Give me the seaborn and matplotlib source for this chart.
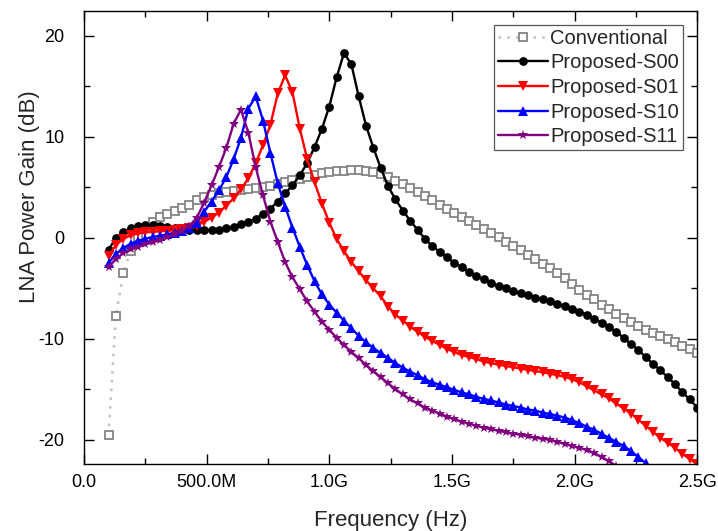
import numpy as np
import pandas as pd
import matplotlib
matplotlib.use("Agg")
import matplotlib.pyplot as plt
import seaborn as sns

# frequency sweep (GHz), 30 MHz step
freq = [0.10, 0.13, 0.16, 0.19, 0.22, 0.25, 0.28, 0.31, 0.34, 0.37,
        0.40, 0.43, 0.46, 0.49, 0.52, 0.55, 0.58, 0.61, 0.64, 0.67,
        0.70, 0.73, 0.76, 0.79, 0.82, 0.85, 0.88, 0.91, 0.94, 0.97,
        1.00, 1.03, 1.06, 1.09, 1.12, 1.15, 1.18, 1.21, 1.24, 1.27,
        1.30, 1.33, 1.36, 1.39, 1.42, 1.45, 1.48, 1.51, 1.54, 1.57,
        1.60, 1.63, 1.66, 1.69, 1.72, 1.75, 1.78, 1.81, 1.84, 1.87,
        1.90, 1.93, 1.96, 1.99, 2.02, 2.05, 2.08, 2.11, 2.14, 2.17,
        2.20, 2.23, 2.26, 2.29, 2.32, 2.35, 2.38, 2.41, 2.44, 2.47,
        2.50]

gain_conv = [-19.5, -7.7, -3.5, -1.3, 0.1, 1.0, 1.6, 2.1, 2.4, 2.7,
             3.0, 3.3, 3.7, 4.0, 4.2, 4.4, 4.5, 4.6, 4.7, 4.8,
             4.9, 5.0, 5.1, 5.3, 5.5, 5.7, 5.8, 6.0, 6.2, 6.4,
             6.5, 6.6, 6.6, 6.7, 6.7, 6.6, 6.5, 6.3, 6.0, 5.6,
             5.3, 4.9, 4.5, 4.1, 3.7, 3.3, 2.9, 2.5, 2.1, 1.7,
             1.3, 0.9, 0.5, 0.1, -0.4, -0.8, -1.2, -1.7, -2.1, -2.6,
             -3.0, -3.5, -4.0, -4.6, -5.2, -5.7, -6.1, -6.6, -7.0, -7.5,
             -7.9, -8.3, -8.7, -9.1, -9.4, -9.7, -10.0, -10.3, -10.7, -11.0,
             -11.4]

gain_s00 = [-1.2, 0.0, 0.6, 0.95, 1.15, 1.25, 1.25, 1.2, 1.1, 1.0,
            0.9, 0.8, 0.75, 0.75, 0.75, 0.8, 0.95, 1.1, 1.4, 1.6,
            1.9, 2.4, 2.9, 3.6, 4.4, 5.2, 6.2, 7.4, 9.0, 10.8,
            13.0, 15.9, 18.3, 17.2, 14.0, 11.1, 8.9, 6.9, 5.1, 3.8,
            2.7, 1.7, 0.8, -0.1, -0.8, -1.4, -1.9, -2.5, -2.9, -3.4,
            -3.8, -4.1, -4.5, -4.8, -5.0, -5.3, -5.5, -5.7, -5.95, -6.1,
            -6.3, -6.5, -6.75, -7.0, -7.3, -7.6, -8.0, -8.4, -8.8, -9.3,
            -9.9, -10.5, -11.1, -11.8, -12.5, -13.1, -13.8, -14.5, -15.3, -16.0,
            -16.8]

gain_s01 = [-1.8, -0.7, -0.1, 0.25, 0.45, 0.55, 0.6, 0.65, 0.7, 0.75,
            0.85, 1.0, 1.2, 1.6, 2.0, 2.5, 3.2, 3.9, 4.8, 5.9,
            7.4, 9.2, 11.2, 14.3, 16.1, 14.4, 10.8, 7.8, 5.5, 3.4,
            1.5, -0.1, -1.3, -2.4, -3.3, -4.2, -5.0, -5.8, -6.8, -7.6,
            -8.2, -8.8, -9.3, -9.8, -10.2, -10.6, -11.0, -11.3, -11.6, -11.8,
            -12.0, -12.25, -12.4, -12.55, -12.7, -12.8, -12.95, -13.05, -13.2, -13.3,
            -13.45, -13.6, -13.75, -14.0, -14.3, -14.7, -15.1, -15.5, -15.9, -16.4,
            -16.9, -17.4, -18.0, -18.6, -19.2, -19.8, -20.3, -20.8, -21.4, -21.9,
            -22.4]

gain_s10 = [-2.5, -1.6, -1.0, -0.6, -0.3, -0.1, 0.1, 0.2, 0.35, 0.5,
            0.7, 1.0, 1.5, 2.6, 3.6, 4.7, 6.0, 7.8, 9.9, 12.8,
            14.0, 11.6, 8.4, 5.4, 3.1, 1.0, -0.9, -2.7, -4.3, -5.6,
            -6.6, -7.4, -8.2, -8.95, -9.7, -10.35, -10.9, -11.4, -11.9, -12.4,
            -12.85, -13.25, -13.6, -14.0, -14.3, -14.55, -14.8, -15.05, -15.3, -15.5,
            -15.75, -15.95, -16.1, -16.3, -16.5, -16.65, -16.8, -17.0, -17.1, -17.3,
            -17.45, -17.6, -17.8, -18.05, -18.35, -18.7, -19.0, -19.4, -19.8, -20.2,
            -20.6, -21.1, -21.7, -22.3, np.nan, np.nan, np.nan, np.nan, np.nan, np.nan,
            np.nan]

gain_s11 = [-2.9, -2.1, -1.5, -1.15, -0.9, -0.65, -0.45, -0.2, 0.05, 0.35,
            0.7, 1.2, 2.0, 3.5, 5.2, 7.0, 8.9, 11.3, 12.7, 10.4,
            7.0, 4.2, 1.6, -0.4, -2.4, -3.9, -5.1, -6.3, -7.3, -8.3,
            -9.1, -9.9, -10.6, -11.3, -11.9, -12.6, -13.2, -13.8, -14.4, -15.0,
            -15.5, -16.0, -16.4, -16.8, -17.1, -17.4, -17.7, -17.95, -18.2, -18.4,
            -18.6, -18.8, -18.95, -19.1, -19.25, -19.4, -19.5, -19.65, -19.8, -19.9,
            -20.0, -20.2, -20.4, -20.6, -20.8, -21.0, -21.3, -21.7, -22.1, -22.6,
            np.nan, np.nan, np.nan, np.nan, np.nan, np.nan, np.nan, np.nan, np.nan, np.nan,
            np.nan]

xtick_vals = [0.0, 0.5, 1.0, 1.5, 2.0, 2.5]
xtick_labels = ["0.0", "500.0M", "1.0G", "1.5G", "2.0G", "2.5G"]
ytick_vals = [-20, -10, 0, 10, 20]

sns.set_style("ticks")
plt.rcParams["font.family"] = ["Liberation Sans", "DejaVu Sans"]
plt.rcParams["axes.unicode_minus"] = False

fig = plt.figure(figsize=(7.18, 5.31), dpi=100)
ax = fig.add_axes([0.117, 0.126, 0.854, 0.854])

series = [
    ("Conventional", gain_conv, dict(color="#c0c0c0", linestyle=(0, (1, 2.5)), linewidth=1.8,
                                     marker="s", markersize=5.5, markerfacecolor="white",
                                     markeredgecolor="#858585", markeredgewidth=1.3)),
    ("Proposed-S00", gain_s00, dict(color="black", linewidth=1.7, marker="o", markersize=6.3,
                                    markeredgewidth=0)),
    ("Proposed-S01", gain_s01, dict(color="#ff0000", linewidth=1.7, marker="v", markersize=7.3,
                                    markeredgewidth=0)),
    ("Proposed-S10", gain_s10, dict(color="#0000ff", linewidth=1.7, marker="^", markersize=7.3,
                                    markeredgewidth=0)),
    ("Proposed-S11", gain_s11, dict(color="#800080", linewidth=1.7, marker="*", markersize=7.5,
                                    markeredgewidth=0)),
]

for name, vals, style in series:
    df = pd.DataFrame({"freq": freq, "gain": vals}).dropna()
    sns.lineplot(data=df, x="freq", y="gain", ax=ax, label=name, estimator=None,
                 sort=False, **style)

ax.set_xlim(0, 2.5)
ax.set_ylim(-22.4, 22.5)
ax.set_xticks(xtick_vals)
ax.set_xticklabels(xtick_labels)
ax.set_xticks([0.25, 0.75, 1.25, 1.75, 2.25], minor=True)
ax.set_yticks(ytick_vals)
ax.set_yticks([-15, -5, 5, 15], minor=True)
ax.tick_params(which="both", direction="in", top=True, right=True, labelsize=13,
               width=1.0, colors="black")
ax.tick_params(which="major", length=7)
ax.tick_params(which="minor", length=4)
ax.tick_params(axis="x", which="major", pad=7)
ax.tick_params(axis="y", which="major", pad=14)
for sp in ax.spines.values():
    sp.set_visible(True)
    sp.set_linewidth(1.0)
    sp.set_color("black")

ax.set_xlabel("Frequency (Hz)", fontsize=16, labelpad=14)
ax.set_ylabel("LNA Power Gain (dB)", fontsize=16)
ax.yaxis.set_label_coords(-0.072, 0.59)

leg = ax.legend(loc="upper right", fontsize=14.5, frameon=True, fancybox=False,
                edgecolor="#555555", framealpha=1, borderpad=0.2, labelspacing=0.28,
                handlelength=2.5, handletextpad=0.12, borderaxespad=0.7)
leg.get_frame().set_linewidth(0.9)

fig.savefig("out.png", dpi=100)
